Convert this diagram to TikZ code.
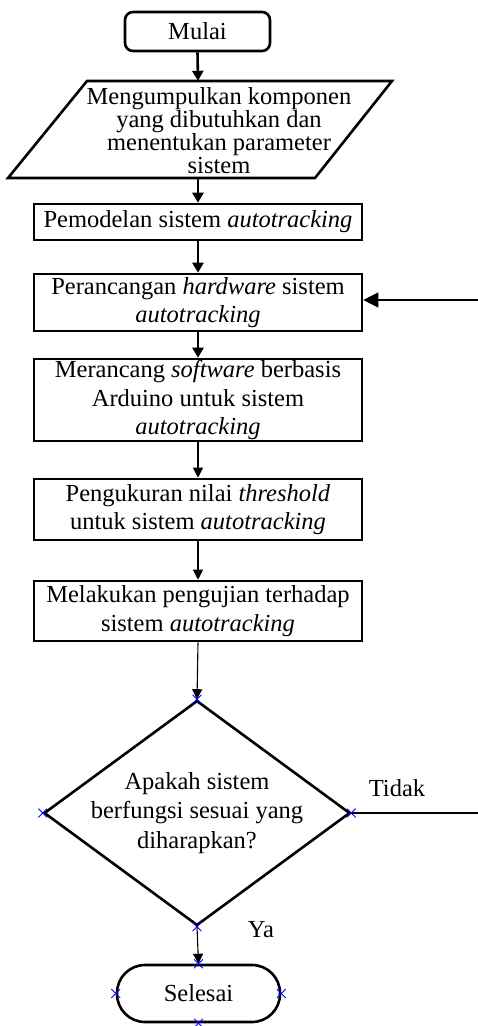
\documentclass[tikz,border=0pt]{standalone}
\usepackage{fontspec}
\setmainfont{Liberation Serif}
\usetikzlibrary{shapes.geometric,shapes.misc,arrows.meta,calc}
\begin{document}
\begin{tikzpicture}[x=1pt,y=-1pt,
  txt/.style={font=\fontsize{24.5}{28.5}\selectfont, align=center, inner sep=0},
  procbox/.style={draw, line width=2.6pt, minimum width=328, inner sep=0, align=center, font=\fontsize{24.5}{28.5}\selectfont},
  thickarr/.style={line width=2.6pt, -{Triangle[length=10pt,width=11pt]}},
  thinarr/.style={line width=1.1pt, -{Triangle[length=10pt,width=10pt]}},
  thinline/.style={line width=1.1pt},
  cpt/.style={cross out, draw=blue, line width=0.8pt, minimum size=8pt, inner sep=0}
]
\useasboundingbox (0,0) rectangle (477,1026);

% Start
\node[draw, line width=2.6pt, rounded corners=8pt, minimum width=145, minimum height=39, font=\fontsize{24.5}{28.5}\selectfont] (start) at (197.5,31.5) {Mulai};

% Parallelogram (input)
\node[minimum width=305, minimum height=97, inner sep=0] (para) at (198,129.5) {};
\node[txt, font=\fontsize{24.5}{23}\selectfont] (paratext) at (219,131)
  {Mengumpulkan komponen\\yang dibutuhkan dan\\menentukan parameter\\sistem};
\draw[line width=2.6pt, line join=miter] (87,81) -- (392,81) -- (315,178) -- (8,178) -- cycle;

% Process boxes
\node[procbox, minimum height=36] (b1) at (198,222) {Pemodelan sistem \textit{autotracking}};
\node[procbox, minimum height=57] (b2) at (198,302.5) {Perancangan \textit{hardware} sistem\\\textit{autotracking}};
\node[procbox, minimum height=82] (b3) at (198,400) {Merancang \textit{software} berbasis\\Arduino untuk sistem\\\textit{autotracking}};
\node[procbox, minimum height=61] (b4) at (198,509.5) {Pengukuran nilai \textit{threshold}\\untuk sistem \textit{autotracking}};
\node[procbox, minimum height=60] (b5) at (198,611) {Melakukan pengujian terhadap\\sistem \textit{autotracking}};

% Decision
\node[diamond, draw, line width=2.6pt, minimum width=306, minimum height=225, inner sep=0] (dec) at (197,813) {};
\node[txt, font=\fontsize{24.5}{29.5}\selectfont] (dectext) at (dec.center) {Apakah sistem\\berfungsi sesuai yang\\diharapkan?};

% End
\node[draw, line width=2.6pt, rounded corners=28pt, minimum width=163, minimum height=57, font=\fontsize{24.5}{28.5}\selectfont] (end) at (198.5,993.5) {Selesai};

% Labels
\node[txt] (tidak) at (397,788) {Tidak};
\node[txt] (ya) at (261,930) {Ya};

% Connectors
\draw[thickarr] (start.south) -- (para.north);
\draw[thickarr] (para.south) -- (b1.north);
\draw[thickarr] (b1.south) -- (b2.north);
\draw[thickarr] (b2.south) -- (b3.north);
\draw[thinarr] (b3.south) -- (b4.north);
\draw[thinarr] (b4.south) -- (b5.north);
\draw[thinarr] (b5.south) -- (dec.north);
\draw[thinarr] (dec.south) -- (end.north);

\coordinate (fbA) at (482,813);
\coordinate (fbB) at (482,300);
\draw[thinline] (dec.east) -- (fbA) -- (fbB);
\draw[thinline, -{Triangle[length=15pt,width=15pt]}] (fbB) -- (b2.east |- fbB);

% Connection point markers
\foreach \a in {north,west,east,south}{
  \node[cpt] at (dec.\a) {};
  \node[cpt] at (end.\a) {};
}
\end{tikzpicture}
\end{document}
